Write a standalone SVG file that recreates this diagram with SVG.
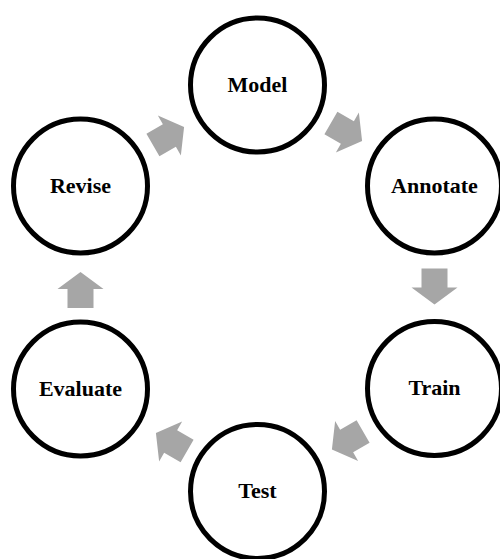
<svg xmlns="http://www.w3.org/2000/svg" width="500" height="559" viewBox="0 0 500 559">
<style>
.node circle{fill:#ffffff;stroke:#000000;stroke-width:5}
.node text{font-family:"Liberation Serif","Times New Roman",serif;font-weight:bold;font-size:22px;fill:#000000;text-anchor:middle}
.arrow{fill:#a6a6a6}
</style>
<defs>
<polygon id="blk" points="0,-18 23,-1 13,-1 13,18 -13,18 -13,-1 -23,-1"/>
</defs>
<rect width="500" height="559" fill="#ffffff"/>
<g id="connectors">
<use href="#blk" class="arrow" transform="translate(346.5,132) rotate(120)"/>
<use href="#blk" class="arrow" transform="translate(434.5,286.5) rotate(180)"/>
<use href="#blk" class="arrow" transform="translate(347.5,440.5) rotate(240)"/>
<use href="#blk" class="arrow" transform="translate(171.5,442) rotate(300)"/>
<use href="#blk" class="arrow" transform="translate(80.5,290)"/>
<use href="#blk" class="arrow" transform="translate(168.5,136) rotate(60)"/>
</g>
<g id="model" class="node"><circle cx="257.5" cy="85" r="67"/><text x="257.5" y="91.5">Model</text></g>
<g id="annotate" class="node"><circle cx="434.5" cy="186" r="67"/><text x="434.5" y="192.5">Annotate</text></g>
<g id="train" class="node"><circle cx="434.5" cy="388.5" r="67"/><text x="434.5" y="395">Train</text></g>
<g id="test" class="node"><circle cx="257.5" cy="491.5" r="67"/><text x="257.5" y="498">Test</text></g>
<g id="evaluate" class="node"><circle cx="80.5" cy="389" r="67"/><text x="80.5" y="395.5">Evaluate</text></g>
<g id="revise" class="node"><circle cx="80.5" cy="186" r="67"/><text x="80.5" y="192.5">Revise</text></g>
</svg>
